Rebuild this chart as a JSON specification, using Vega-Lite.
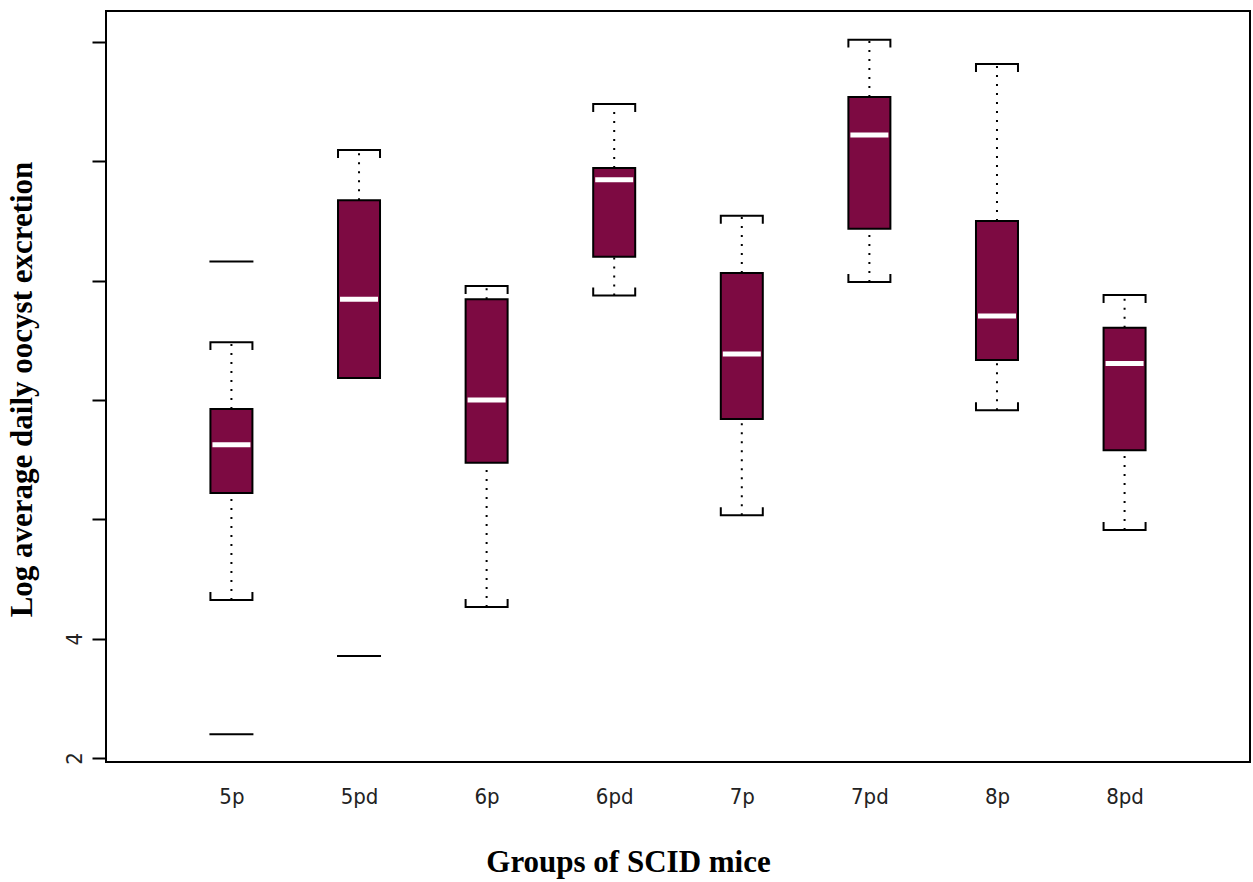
{
  "$schema": "https://vega.github.io/schema/vega-lite/v6.json",
  "width": 1144,
  "height": 751,
  "autosize": "none",
  "padding": {"left": 106, "top": 11, "right": 3, "bottom": 120},
  "background": "white",
  "config": {
    "view": {"stroke": "black", "strokeWidth": 2},
    "axis": {"grid": false}
  },
  "datasets": {
    "boxes": [
      {"group": "5p", "lo": 4.65, "locap": 4.65, "q1": 6.44, "med": 7.25, "q3": 7.85, "hi": 8.97},
      {"group": "5pd", "lo": 8.37, "locap": null, "q1": 8.37, "med": 9.69, "q3": 11.35, "hi": 12.19},
      {"group": "6p", "lo": 4.53, "locap": 4.53, "q1": 6.95, "med": 8.0, "q3": 9.69, "hi": 9.91},
      {"group": "6pd", "lo": 9.75, "locap": 9.75, "q1": 10.4, "med": 11.69, "q3": 11.89, "hi": 12.96},
      {"group": "7p", "lo": 6.07, "locap": 6.07, "q1": 7.68, "med": 8.77, "q3": 10.13, "hi": 11.09},
      {"group": "7pd", "lo": 9.98, "locap": 9.98, "q1": 10.87, "med": 12.44, "q3": 13.08, "hi": 14.04},
      {"group": "8p", "lo": 7.83, "locap": 7.83, "q1": 8.67, "med": 9.41, "q3": 11.0, "hi": 13.63},
      {"group": "8pd", "lo": 5.82, "locap": 5.82, "q1": 7.16, "med": 8.61, "q3": 9.21, "hi": 9.76}
    ],
    "outliers": [
      {"group": "5p", "value": 10.32},
      {"group": "5p", "value": 2.4},
      {"group": "5pd", "value": 3.71}
    ]
  },
  "encoding": {
    "x": {
      "field": "group",
      "type": "nominal",
      "sort": ["5p", "5pd", "6p", "6pd", "7p", "7pd", "8p", "8pd"],
      "scale": {"type": "point", "padding": 0.983},
      "axis": {
        "title": "Groups of SCID mice",
        "titleFont": "Liberation Serif",
        "titleFontWeight": "bold",
        "titleFontSize": 31,
        "titleColor": "black",
        "titleX": 522,
        "titleY": 100,
        "titleBaseline": "middle",
        "labelAngle": 0,
        "labelFont": "Liberation Sans Narrow, DejaVu Sans Condensed, Liberation Sans",
        "labelFontSize": 22,
        "labelColor": "#222",
        "labelPadding": 24,
        "ticks": false,
        "domain": false
      }
    }
  },
  "layer": [
    {
      "data": {"name": "boxes"},
      "mark": {"type": "rule", "strokeDash": [2, 7], "strokeWidth": 2, "color": "black"},
      "encoding": {
        "y": {
          "field": "q3",
          "type": "quantitative",
          "title": "Log average daily oocyst excretion",
          "scale": {"domain": [1.933, 14.52], "nice": false, "zero": false},
          "axis": {
            "title": "Log average daily oocyst excretion",
            "titleFont": "Liberation Serif",
            "titleFontWeight": "bold",
            "titleFontSize": 31,
            "titleColor": "black",
            "titleX": -84,
            "titleY": 378,
            "titleBaseline": "middle",
            "titleAngle": -90,
            "values": [2, 4, 6, 8, 10, 12, 14],
            "format": "d",
            "labelExpr": "datum.value <= 4 ? datum.label : ''",
            "labelAngle": -90,
            "labelAlign": "center",
            "labelBaseline": "bottom",
            "labelFont": "Liberation Sans Narrow, DejaVu Sans Condensed, Liberation Sans",
            "labelFontSize": 22,
            "labelColor": "#222",
            "labelPadding": 6,
            "tickSize": 14,
            "tickWidth": 2,
            "tickColor": "black",
            "domain": false
          }
        },
        "y2": {"field": "hi"}
      }
    },
    {
      "data": {"name": "boxes"},
      "mark": {"type": "rule", "strokeDash": [2, 7], "strokeWidth": 2, "color": "black"},
      "encoding": {
        "y": {"field": "lo", "type": "quantitative", "title": "Log average daily oocyst excretion"},
        "y2": {"field": "q1"}
      }
    },
    {
      "data": {"name": "boxes"},
      "mark": {"type": "bar", "size": 42, "fill": "#7D0A42", "stroke": "black", "strokeWidth": 2},
      "encoding": {
        "y": {"field": "q1", "type": "quantitative", "title": "Log average daily oocyst excretion"},
        "y2": {"field": "q3"}
      }
    },
    {
      "data": {"name": "boxes"},
      "mark": {"type": "tick", "size": 38, "thickness": 5, "color": "white", "opacity": 1},
      "encoding": {
        "y": {"field": "med", "type": "quantitative", "title": "Log average daily oocyst excretion"}
      }
    },
    {
      "data": {"name": "boxes"},
      "mark": {"type": "point", "shape": "M -1 0.38 L -1 0 L 1 0 L 1 0.38", "size": 1764, "filled": false, "stroke": "black", "strokeWidth": 2, "opacity": 1},
      "encoding": {
        "y": {"field": "hi", "type": "quantitative", "title": "Log average daily oocyst excretion"}
      }
    },
    {
      "data": {"name": "boxes"},
      "mark": {"type": "point", "shape": "M -1 -0.38 L -1 0 L 1 0 L 1 -0.38", "size": 1764, "filled": false, "stroke": "black", "strokeWidth": 2, "opacity": 1},
      "encoding": {
        "y": {"field": "locap", "type": "quantitative", "title": "Log average daily oocyst excretion"}
      }
    },
    {
      "data": {"name": "outliers"},
      "mark": {"type": "point", "shape": "M -1 0 L 1 0", "size": 1936, "filled": false, "stroke": "black", "strokeWidth": 2, "opacity": 1},
      "encoding": {
        "y": {"field": "value", "type": "quantitative", "title": "Log average daily oocyst excretion"}
      }
    }
  ]
}
